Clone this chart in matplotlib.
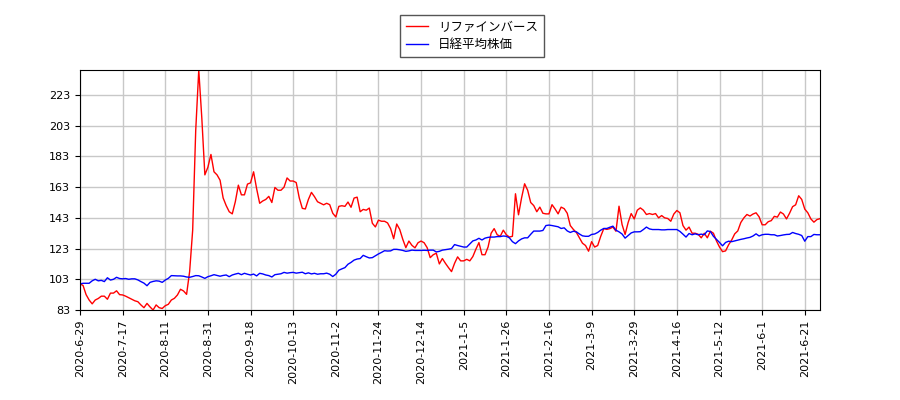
import matplotlib
matplotlib.use('Agg')
import matplotlib.pyplot as plt

plt.rcParams['font.family'] = ['Noto Sans CJK JP', 'DejaVu Sans']

# x positions are trading-day indices; a tick every 14 trading days
tick_labels = ['2020-6-29', '2020-7-17', '2020-8-11', '2020-8-31', '2020-9-18',
               '2020-10-13', '2020-11-2', '2020-11-24', '2020-12-14', '2021-1-5',
               '2021-1-26', '2021-2-16', '2021-3-9', '2021-3-29', '2021-4-16',
               '2021-5-12', '2021-6-1', '2021-6-21']

refine = [100, 99, 93, 89.5, 87, 89.5, 90.5, 92, 92, 90,
          94, 94, 95.5, 93, 92.8, 92, 91, 90, 89, 88.4,
          86.3, 84.5, 87.3, 85, 83, 86.3, 84.5, 84, 85.8, 86.7,
          89.5, 90.6, 92.8, 96.5, 95.4, 93.2, 108, 135, 200, 239.3,
          208, 171, 176, 184.3, 173, 171, 167.5, 156, 151, 147,
          145.6, 153.5, 164.3, 158, 158, 165, 165.8, 173, 162, 152.5,
          154, 155, 157, 153, 162.8, 161, 161, 163, 169, 167,
          167, 166, 156, 149.2, 148.8, 155, 159.6, 156.8, 153.5, 152.5,
          151.5, 152.5, 151.6, 146, 143.6, 150.5, 150.9, 150.5, 153.3, 149.9,
          155.9, 156.5, 147, 148.5, 148, 149.4, 139.5, 137.1, 141.5, 140.8,
          140.8, 139.7, 136, 129.4, 139, 135.4, 129, 123.6, 127.9, 125.1,
          123.5, 126.8, 127.9, 126.8, 123.6, 117.1, 119, 120, 113, 116.5,
          113.4, 110.6, 108, 113.4, 117.6, 115, 115, 116, 115, 117.8,
          122.6, 126.9, 119, 119, 124, 133, 136, 132, 131, 135,
          132, 130.5, 131, 158.7, 145, 156, 165.2, 161, 153, 151,
          147, 150, 146, 145.6, 145.6, 151.6, 148.8, 145.6, 150, 149,
          146, 138, 135.5, 133.5, 130, 126.5, 125, 121.3, 127.5, 124,
          125, 131, 136, 135.5, 136, 137, 134.3, 150.6, 138.7, 132.2,
          140, 145.8, 142.3, 148, 149.5, 148, 145.2, 145.8, 145.2, 145.8,
          143, 144.5, 143, 142.6, 140.8, 145.5, 147.8, 146.3, 138, 135,
          137, 133, 133, 132.3, 130, 133, 130, 134.3, 133, 128,
          124, 121, 121.5, 125.5, 128.6, 132.6, 134.5, 140, 143, 145.2,
          144.2, 145.5, 146.3, 143.7, 138.5, 138.5, 140.5, 141.2, 144, 143.5,
          146.8, 145.5, 142.3, 146, 150.3, 151.5, 157.4, 155, 148.7, 146.3,
          142.3, 140.2, 141.9, 142.5]

nikkei = [100, 100.4, 100.4, 100.4, 102, 103, 102, 102.3, 101.5, 104,
          102.5, 103, 104.3, 103.5, 103.3, 103.5, 103, 103.3, 103.3, 102.6,
          101.5, 100.5, 98.8, 101, 101.6, 102, 101.8, 101, 102.5, 103.6,
          105.4, 105.3, 105.2, 105.2, 105, 104.5, 104.3, 104.8, 105.4, 105.3,
          104.5, 103.6, 104.7, 105.3, 106, 105.5, 105, 105.5, 105.8, 104.7,
          105.8, 106.4, 106.9, 106, 106.9, 106.3, 105.8, 106.4, 105.2, 106.9,
          106.5, 105.8, 105.4, 104.5, 106, 106.3, 106.6, 107.5, 107, 107.3,
          107.5, 107, 107.3, 107.6, 106.6, 107.2, 106.5, 106.9, 106.3, 106.6,
          106.6, 107, 106.3, 104.8, 106.3, 108.9, 109.8, 110.6, 112.8, 114,
          115.5, 116.2, 116.5, 118.6, 117.7, 116.9, 117.1, 118.3, 119.5, 120.5,
          121.6, 121.4, 121.5, 122.5, 122.5, 122.2, 121.8, 121.2, 121.5, 122,
          121.8, 121.8, 121.8, 121.9, 121.8, 122, 122, 120.8, 121.2, 122,
          122.3, 122.6, 123, 125.6, 125, 124.5, 124, 124, 126, 128,
          128.6, 129.7, 128.6, 129.8, 130.3, 130.5, 130.5, 130.8, 130.8, 131.2,
          131, 130, 127.5, 126.2, 128, 129.3, 130, 130, 132.3, 134.4,
          134.4, 134.4, 134.8, 138, 138.3, 138, 137.6, 137.2, 136.1, 136.5,
          134.5, 133.5, 134.3, 133.9, 132.5, 131.3, 131, 131, 132.2, 132.5,
          133.5, 135, 136.1, 136.1, 136.9, 137.6, 135, 133.9, 132.5, 129.8,
          131.5, 133.2, 133.9, 133.9, 134, 135.4, 137, 135.8, 135.4, 135.4,
          135.4, 135.2, 135.2, 135.4, 135.4, 135.4, 135.4, 134.2, 132.4, 130.5,
          132.8, 132, 132.6, 132, 132.4, 132, 134.5, 134.1, 131, 129,
          127, 124.8, 127, 127.8, 127.5, 128, 128.5, 129, 129.4, 129.9,
          130.3, 131.2, 132.6, 131.2, 132, 132.3, 132.3, 132, 132, 131.2,
          131.5, 131.9, 132.2, 132.3, 133.5, 132.8, 132.3, 131.5, 127.8, 130.8,
          130.8, 132.2, 132, 132]

x = list(range(len(refine)))
ymin = min(refine + nikkei)
ymax = max(refine + nikkei)

fig = plt.figure(figsize=(9, 4), dpi=100)
ax = fig.add_axes([80 / 900, 90 / 400, 740 / 900, 240 / 400])
ax.plot(x, refine, color='red', linewidth=1, label='リファインバース')
ax.plot(x, nikkei, color='blue', linewidth=1, label='日経平均株価')

ax.set_xlim(0, len(refine) - 1)
ax.set_ylim(ymin, ymax)
ax.set_xticks(range(0, 14 * len(tick_labels), 14))
ax.set_xticklabels(tick_labels, rotation=90, fontsize=8, family='DejaVu Sans')
yt = list(range(int(ymin), int(ymax), 20))
ax.set_yticks(yt)
ax.set_yticklabels([str(v) for v in yt], fontsize=8, family='DejaVu Sans')
ax.grid(True, color='#c8c8c8', linewidth=1)
ax.set_axisbelow(True)

fig.legend(loc='upper left', bbox_to_anchor=(400 / 900, 1 - 15 / 400),
           borderaxespad=0, fontsize=9, fancybox=False, edgecolor='#555555',
           framealpha=1, handlelength=1.8, borderpad=0.45, labelspacing=0.35)

fig.savefig('out.png')
